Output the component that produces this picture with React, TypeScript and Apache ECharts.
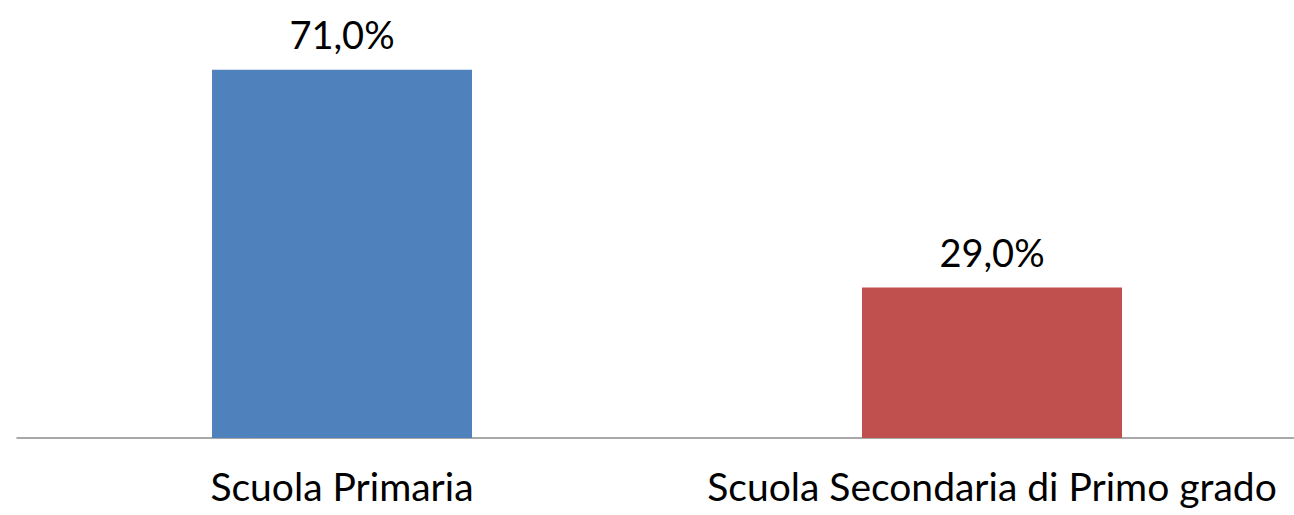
import React, { useEffect, useRef } from "react";
import * as echarts from "echarts";

const categories = ["Scuola Primaria", "Scuola Secondaria di Primo grado"];
const values = [71.0, 29.0];
const barColors = ["#4F81BD", "#C0504D"];

export default function App() {
  const ref = useRef<HTMLDivElement>(null);
  useEffect(() => {
    document.body.style.margin = "0";
    document.body.style.overflow = "hidden";
    document.documentElement.style.overflow = "hidden";
    const chart = echarts.init(ref.current!, null, { renderer: "svg" });
    const font = "Lato, 'Noto Sans', sans-serif";
    chart.setOption({
      animation: false,
      grid: { left: 17, right: 0, top: 23, bottom: 77 },
      xAxis: {
        type: "category",
        data: categories,
        axisLine: { show: true, lineStyle: { color: "#8C8C8C", width: 1.5 } },
        axisTick: { show: false },
        axisLabel: {
          color: "#000",
          fontSize: 39,
          fontFamily: font,
          margin: 28,
          interval: 0,
        },
      },
      yAxis: {
        type: "value",
        min: 0,
        max: 80,
        show: false,
        splitLine: { show: false },
      },
      series: [
        {
          type: "bar",
          barWidth: 260,
          data: values.map((v, i) => ({ value: v, itemStyle: { color: barColors[i] } })),
          label: {
            show: true,
            position: "top",
            distance: 17,
            color: "#000",
            fontSize: 38,
            fontFamily: font,
            formatter: (p: any) => `${Number(p.value).toFixed(1).replace(".", ",")}%`,
          },
        },
      ],
    });
    return () => chart.dispose();
  }, []);
  return (
    <div style={{ width: 1294, height: 515, overflow: "hidden", position: "relative" }}>
      <div ref={ref} style={{ width: 1317, height: 515 }} />
    </div>
  );
}
